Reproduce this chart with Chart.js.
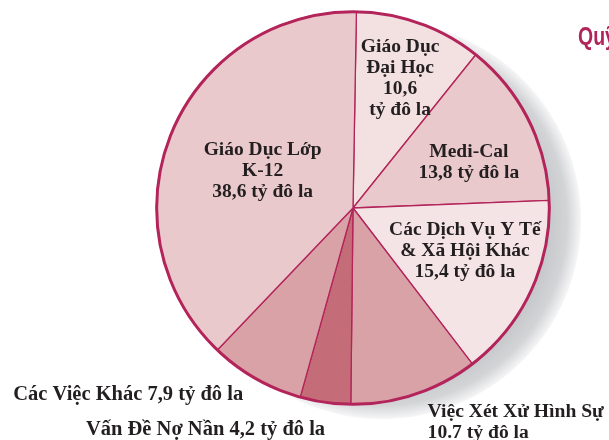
<!DOCTYPE html>
<html>
<head>
<meta charset="utf-8">
<script src="https://cdn.jsdelivr.net/npm/chart.js@4.4.1/dist/chart.umd.min.js"></script>
<style>
  html, body { margin: 0; padding: 0; background: #fff; overflow: hidden; }
  #wrap { width: 609px; height: 440px; position: relative; }
</style>
</head>
<body>
<div id="wrap"><canvas id="pie" width="609" height="440"></canvas></div>
<script>
// slices, clockwise from the top
const categories = ["Giáo Dục Đại Học", "Medi-Cal", "Các Dịch Vụ Y Tế & Xã Hội Khác",
    "Việc Xét Xử Hình Sự", "Vấn Đề Nợ Nần", "Các Việc Khác", "Giáo Dục Lớp K-12"]
const values = [10.6, 13.8, 15.4, 10.7, 4.2, 7.9, 38.6]
const labelLines = [
    ["Giáo Dục", "Đại Học", "10,6", "tỷ đô la"],
    ["Medi-Cal", "13,8 tỷ đô la"],
    ["Các Dịch Vụ Y Tế", "& Xã Hội Khác", "15,4 tỷ đô la"],
    ["Việc Xét Xử Hình Sự", "10.7 tỷ đô la"],
    ["Vấn Đề Nợ Nần 4,2 tỷ đô la"],
    ["Các Việc Khác 7,9 tỷ đô la"],
    ["Giáo Dục Lớp", "K-12", "38,6 tỷ đô la"],
]
const title = "Quỹ Tổng Quát"

const colors = ["#f3e1e2", "#e9c9cb", "#f4e4e5", "#d9a2a7", "#c56c79", "#d9a2a7", "#e9c9cb"]
const edge = "#b3245a"

// where each label sits, measured from the pie centre in radii; align; font size
const labelPlace = [
    [0.24, -0.66, "center", 19.5],
    [0.59, -0.23, "center", 19.5],
    [0.57, 0.22, "center", 19.5],
    [0.38, 1.09, "left", 19.6],
    [-1.36, 1.13, "left", 20.5],
    [-1.73, 0.95, "left", 20.5],
    [-0.46, -0.19, "center", 19.5],
]

// grey drop shadow behind the pie, offset down-right
const shadowPlugin = {
    id: "pieShadow",
    beforeDraw(chart) {
        const a = chart.chartArea
        const r = Math.min(a.right - a.left, a.bottom - a.top) / 2
        const cx = (a.left + a.right) / 2 + 29
        const cy = (a.top + a.bottom) / 2 + 12
        const ctx = chart.ctx
        ctx.save()
        const g = ctx.createRadialGradient(cx, cy, 0, cx, cy, r + 2)
        g.addColorStop(0, "#b8b9bd")
        g.addColorStop(0.8, "#c2c3c6")
        g.addColorStop(0.93, "#d3d4d6")
        g.addColorStop(1, "#f6f6f7")
        ctx.fillStyle = g
        ctx.beginPath()
        ctx.arc(cx, cy, r + 2, 0, Math.PI * 2)
        ctx.fill()
        ctx.restore()
    }
}

const labelPlugin = {
    id: "pieLabels",
    afterDatasetsDraw(chart) {
        const arc = chart.getDatasetMeta(0).data[0]
        const ctx = chart.ctx
        const r = arc.outerRadius
        ctx.save()
        ctx.strokeStyle = edge
        ctx.lineWidth = 3
        ctx.beginPath()
        ctx.arc(arc.x, arc.y, r, 0, Math.PI * 2)
        ctx.stroke()

        ctx.fillStyle = "#231f20"
        ctx.textBaseline = "middle"
        labelLines.forEach((lines, i) => {
            const p = labelPlace[i]
            const lh = p[3] * 1.08
            ctx.font = "bold " + p[3] + "px 'Liberation Serif'"
            const x = arc.x + p[0] * r
            const y0 = arc.y + p[1] * r - (lines.length - 1) * lh / 2
            ctx.textAlign = p[2]
            lines.forEach((t, j) => ctx.fillText(t, x, y0 + j * lh))
        })

        // title, squeezed like a condensed face
        ctx.fillStyle = "#b0245a"
        ctx.font = "bold 25px 'Liberation Sans Narrow', 'Liberation Sans'"
        ctx.textAlign = "left"
        ctx.translate(578, 38)
        ctx.scale(0.78, 1)
        ctx.fillText(title, 0, 0)
        ctx.restore()
    }
}

new Chart(document.getElementById("pie").getContext("2d"), {
    type: "pie",
    data: {
        labels: categories,
        datasets: [{
            data: values,
            backgroundColor: colors,
            borderColor: edge,
            borderWidth: 1.3,
        }],
    },
    options: {
        responsive: false,
        animation: false,
        rotation: 1,
        layout: { padding: { top: 11, bottom: 35, left: 156, right: 59 } },
        plugins: {
            legend: { display: false },
            tooltip: { enabled: false },
        },
    },
    plugins: [shadowPlugin, labelPlugin],
})
</script>
</body>
</html>
